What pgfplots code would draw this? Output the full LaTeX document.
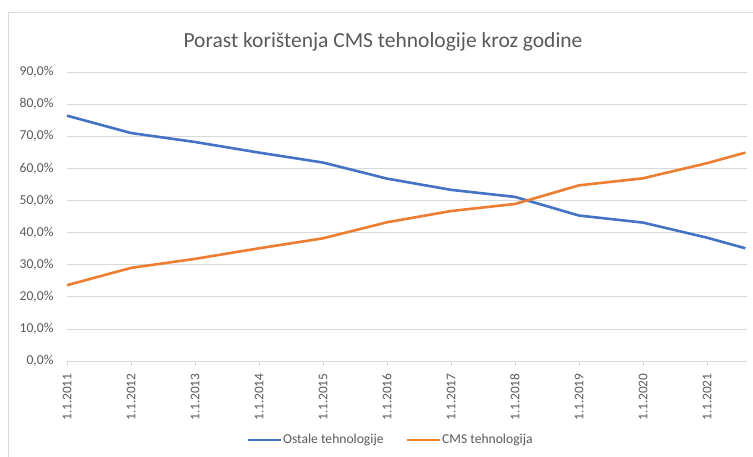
\documentclass[border=0pt]{standalone}
\usepackage{pgfplots}
\pgfplotsset{compat=1.18}
\usepackage{fontspec}
\setmainfont{Carlito}
\definecolor{cblue}{HTML}{4472C4}
\definecolor{corange}{HTML}{ED7D31}
\definecolor{cgrid}{HTML}{D9D9D9}
\definecolor{ctext}{HTML}{595959}
\begin{document}
\begin{tikzpicture}[x=1pt,y=1pt]
\path[use as bounding box] (-67,-96) rectangle (686,361);
\draw[cgrid,line width=0.75pt] (-59,-100) -- (-59,349) -- (690,349);
\node[ctext,font=\fontsize{21.5}{25}\selectfont] at (316,319) {Porast korištenja CMS tehnologije kroz godine};
\begin{axis}[
  at={(0,0)}, anchor=south west,
  scale only axis, width=680pt, height=289pt,
  xmin=0, xmax=10.625, ymin=0, ymax=90,
  /pgf/number format/assume math mode=true,
  xtick={0,...,10},
  xticklabels={1.1.2011,1.1.2012,1.1.2013,1.1.2014,1.1.2015,1.1.2016,1.1.2017,1.1.2018,1.1.2019,1.1.2020,1.1.2021},
  x tick label style={rotate=90, anchor=east, font=\fontsize{13.3}{15}\selectfont, text=ctext},
  ytick={0,10,...,90},
  yticklabel={\pgfmathprintnumber[fixed,fixed zerofill,precision=1,use comma]{\tick}\%},
  y tick label style={font=\fontsize{13.6}{15}\selectfont, text=ctext},
  ymajorgrids, grid style={cgrid,line width=0.75pt},
  axis x line*=bottom, axis y line*=left,
  x axis line style={draw=cgrid,line width=0.75pt},
  y axis line style={draw=none},
  xtick style={draw=cgrid,line width=0.75pt},
  major tick length=5pt,
  xtick align=outside,
  ytick style={draw=none},
  xticklabel shift=4pt,
  yticklabel shift=10pt,
  clip=false,
  legend columns=2,
  legend style={at={(rel axis cs:0.475,-0.273)}, anchor=center, draw=none, fill=none,
    font=\fontsize{13.6}{15}\selectfont, text=ctext,
    nodes={inner xsep=1pt},
    /tikz/every even column/.append style={column sep=21pt}},
  legend image code/.code={\draw[#1] (0pt,0pt) -- (33pt,0pt);},
]
\addplot[cblue, line width=2.6pt, line join=round] coordinates {
(0,76.4) (1,71.0) (2,68.2) (3,64.9) (4,61.8) (5,56.8) (6,53.3) (7,51.1) (8,45.3) (9,43.1) (10,38.4) (10.6,35.1)};
\addlegendentry{Ostale tehnologije}
\addplot[corange, line width=2.6pt, line join=round] coordinates {
(0,23.6) (1,29.0) (2,31.8) (3,35.1) (4,38.2) (5,43.2) (6,46.7) (7,48.9) (8,54.7) (9,56.9) (10,61.6) (10.6,64.9)};
\addlegendentry{CMS tehnologija}
\end{axis}
\end{tikzpicture}
\end{document}
